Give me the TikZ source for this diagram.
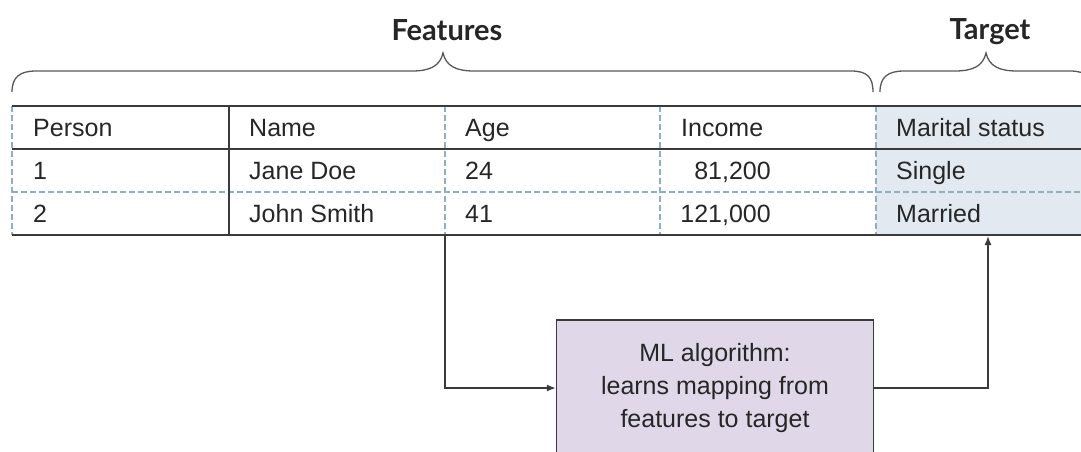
\documentclass[tikz,border=0pt]{standalone}
\usepackage{fontspec}
\setmainfont{Liberation Sans}
\newfontfamily\headfont{Lato}
\usetikzlibrary{arrows.meta}
\definecolor{rule}{HTML}{3A3A3A}
\definecolor{dashblue}{HTML}{8EB0C0}
\definecolor{targetfill}{HTML}{E3E9F0}
\definecolor{algofill}{HTML}{E0D7E9}
\definecolor{ink}{HTML}{262626}

\begin{document}
\begin{tikzpicture}[x=1pt,y=-1pt,
  solidrule/.style={draw=rule,line width=1.4pt},
  dashrule/.style={draw=dashblue,line width=1.2pt,dash pattern=on 6pt off 3pt},
  cell/.style={anchor=base west,inner sep=0pt,text=ink,font=\fontsize{25}{30}\selectfont},
  numcell/.style={cell,anchor=base east},
  heading/.style={anchor=base,inner sep=0pt,text=ink,font=\headfont\bfseries\fontsize{29}{34}\selectfont},
  bracepath/.style={draw=rule!85,line width=1.3pt},
  flow/.style={draw=rule,line width=1.4pt,-{Latex[length=9pt,width=7pt]}},
  algo/.style={draw=rule,line width=1.4pt,fill=algofill,text=ink,align=center,
    minimum width=317pt,minimum height=136pt,inner sep=0pt,
    font=\fontsize{25}{33}\selectfont}
]
\useasboundingbox (0,0) rectangle (1081,451);
\clip (0,0) rectangle (1081,451);

% target column shading
\fill[targetfill] (876,106) rectangle (1100,235);

% table rules
\draw[dashrule] (12,106) -- (12,235);
\draw[dashrule] (445,106) -- (445,235);
\draw[dashrule] (660,106) -- (660,235);
\draw[dashrule] (876,106) -- (876,235);
\draw[dashrule] (12,192) -- (1100,192);
\draw[solidrule] (229,106) -- (229,235);
\draw[solidrule] (12,106) -- (1100,106);
\draw[solidrule] (12,149) -- (1100,149);
\draw[solidrule] (12,235) -- (1100,235);

% header row
\node[cell] (hperson) at (33,136) {Person};
\node[cell] (hname) at (249,136) {Name};
\node[cell] (hage) at (465,136) {Age};
\node[cell] (hincome) at (681,136) {Income};
\node[cell] (hmarital) at (896,136) {Marital status};
% first record
\node[cell] (p1) at (33,179) {1};
\node[cell] (n1) at (249,179) {Jane Doe};
\node[cell] (a1) at (465,179) {24};
\node[numcell] (i1) at (771,179) {81,200};
\node[cell] (m1) at (896,179) {Single};
% second record
\node[cell] (p2) at (33,222) {2};
\node[cell] (n2) at (249,222) {John Smith};
\node[cell] (a2) at (465,222) {41};
\node[numcell] (i2) at (771,222) {121,000};
\node[cell] (m2) at (896,222) {Married};

% braces and their labels
\draw[bracepath] (12,92) .. controls (12,77) and (20,71) .. (36,71) -- (412,71)
  .. controls (430,71) and (440,66) .. (443,53)
  .. controls (446,66) and (456,71) .. (474,71) -- (851,71)
  .. controls (867,71) and (873,77) .. (873,92);
\draw[bracepath] (880,92) .. controls (880,77) and (888,71) .. (904,71) -- (955,71)
  .. controls (973,71) and (983,66) .. (986,53)
  .. controls (989,66) and (999,71) .. (1017,71) -- (1070,71)
  .. controls (1086,71) and (1092,77) .. (1092,92);
\node[heading] (features) at (447,40) {Features};
\node[heading] (target) at (990,39) {Target};

% learning step
\node[algo] (ml) at (715,388) {ML algorithm:\\learns mapping from\\features to target};
\coordinate (agefoot) at (445,235);
\coordinate (targetfoot) at (988,236);
\draw[flow] (agefoot) |- (ml.west);
\draw[flow] (ml.east) -| (targetfoot);
\end{tikzpicture}
\end{document}
